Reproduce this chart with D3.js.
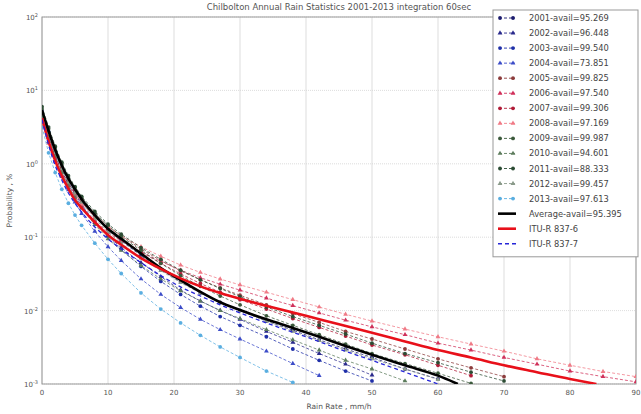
<!DOCTYPE html>
<html>
<head>
<meta charset="utf-8">
<script src="https://cdn.jsdelivr.net/npm/d3@7"></script>
<style>
  body { margin: 0; background: #fff; }
  svg { font-family: "DejaVu Sans", sans-serif; }
</style>
</head>
<body>
<div id="chart"></div>
<script>
// rain rate bins (mm/h) shared by the yearly curves
const rainRate = [0,1,2,3,4,5,6,8,10,12,15,18,21,24,27,30,34,38,42,46,50,55,60,65,70,75,80,85,90];

// exceedance probability (%) per year
const y2001 = [5.0,2.63,1.48,0.89,0.6,0.43,0.32,0.19,0.126,0.089,0.056,0.036,0.0245,0.0174,0.0129,0.01,0.0072,0.0054,0.004,0.003,0.0023,0.0016,0.00117];
const y2002 = [4.8,2.4,1.32,0.79,0.52,0.36,0.27,0.158,0.105,0.072,0.045,0.029,0.019,0.0135,0.01,0.0076,0.0052,0.0037,0.0026,0.00186,0.00132];
const y2003 = [5.2,2.75,1.45,0.87,0.56,0.39,0.28,0.162,0.102,0.068,0.04,0.025,0.0166,0.0115,0.0083,0.0063,0.0044,0.003,0.0021,0.0015,0.0011];
const y2004 = [4.0,2.0,1.1,0.67,0.44,0.3,0.21,0.12,0.074,0.048,0.027,0.0166,0.011,0.0076,0.0055,0.0041,0.0028,0.0019,0.0013];
const y2005 = [5.0,2.5,1.41,0.89,0.6,0.44,0.33,0.21,0.141,0.105,0.069,0.048,0.0347,0.0263,0.0204,0.0162,0.012,0.0091,0.0069,0.0052,0.0041,0.003,0.0022,0.00166,0.00126];
const y2006 = [4.2,2.0,1.1,0.69,0.47,0.34,0.26,0.166,0.117,0.089,0.063,0.047,0.0355,0.028,0.0229,0.019,0.0148,0.0117,0.0093,0.0074,0.006,0.0047,0.0036,0.0029,0.0023,0.00186,0.0015,0.00126,0.00107];
const y2007 = [4.6,2.24,1.26,0.79,0.54,0.39,0.3,0.186,0.129,0.095,0.063,0.044,0.0316,0.0234,0.0178,0.0141,0.0105,0.0078,0.0059,0.0045,0.0034,0.0025,0.0018,0.0013];
const y2008 = [3.8,1.9,1.1,0.71,0.49,0.36,0.28,0.19,0.138,0.105,0.074,0.055,0.0417,0.0331,0.0269,0.0224,0.0178,0.0141,0.0112,0.0089,0.0072,0.0056,0.0044,0.0035,0.0028,0.0022,0.0018,0.00148,0.00126];
const y2009 = [5.6,3.0,1.66,1.0,0.66,0.47,0.35,0.21,0.145,0.102,0.066,0.044,0.03,0.0214,0.0158,0.012,0.0085,0.0063,0.0047,0.0035,0.0026,0.0019,0.0014,0.00102];
const y2010 = [4.4,2.3,1.26,0.76,0.5,0.35,0.25,0.148,0.095,0.066,0.041,0.027,0.0186,0.0135,0.01,0.0078,0.0055,0.004,0.0029,0.0021,0.0016,0.0011];
const y2011 = [6.0,3.16,1.74,1.05,0.69,0.49,0.36,0.224,0.151,0.11,0.072,0.05,0.0355,0.0263,0.02,0.0155,0.0112,0.0083,0.0063,0.0048,0.0036,0.0026,0.00195,0.00145,0.0011];
const y2012 = [5.0,2.57,1.41,0.85,0.56,0.4,0.3,0.178,0.117,0.083,0.052,0.035,0.024,0.0174,0.0129,0.01,0.0072,0.0052,0.0039,0.0029,0.0022,0.0016,0.00115];
const y2013 = [3.2,1.41,0.76,0.45,0.29,0.2,0.145,0.083,0.05,0.032,0.0174,0.0105,0.0068,0.0046,0.0032,0.0023,0.0015,0.00105];

const avgRain = [0,1,2,3,4,5,6,8,10,12,15,18,21,24,27,30,34,38,42,46,50,55,60,63];
const avgProb = [5.4,2.8,1.55,0.95,0.63,0.45,0.33,0.2,0.13,0.095,0.06,0.038,0.026,0.018,0.013,0.0102,0.0076,0.0058,0.0044,0.0033,0.0025,0.0018,0.0013,0.001];

const itu6Rain = [0,1,2,3,4,5,6,8,10,12,15,18,21,24,27,30,35,40,45,50,55,60,65,70,75,80,84];
const itu6Prob = [4.2,2.0,1.1,0.68,0.46,0.32,0.25,0.16,0.107,0.079,0.052,0.037,0.0275,0.0214,0.0174,0.0145,0.011,0.0085,0.0065,0.005,0.0038,0.0029,0.0023,0.0018,0.00145,0.00117,0.001];

const itu7Rain = [0,1,2,3,4,5,6,8,10,12,15,18,21,24,27,30,35,40,45,50,55,60];
const itu7Prob = [4.0,1.8,0.95,0.6,0.4,0.29,0.22,0.138,0.095,0.069,0.045,0.03,0.021,0.0158,0.012,0.0093,0.0063,0.0044,0.003,0.0021,0.00145,0.001];

const years = ["2001","2002","2003","2004","2005","2006","2007","2008","2009","2010","2011","2012","2013"];
const avail = ["95.269","96.448","99.540","73.851","99.825","97.540","99.306","97.169","99.987","94.601","88.333","99.457","97.613"];
const yearProbs = [y2001,y2002,y2003,y2004,y2005,y2006,y2007,y2008,y2009,y2010,y2011,y2012,y2013];
const yearColors = ["#1c1c6e","#2a2a8c","#1f2fa8","#3c4cc8","#8c3c3c","#d0305a","#b01c38","#f07a86","#3c5a3c","#5c7c5c","#2c4c34","#8a9a8a","#5aaee0"];
const yearMarkers = ["circle","tri","circle","tri","circle","tri","circle","tri","circle","tri","circle","tri","circle"];

const width = 641, height = 414;
const margin = {left: 42, right: 5, top: 17, bottom: 30};

const svg = d3.select("#chart").append("svg")
    .attr("width", width)
    .attr("height", height);

const x = d3.scaleLinear().domain([0, 90]).range([margin.left, width - margin.right]);
const y = d3.scaleLog().domain([1e-3, 1e2]).range([height - margin.bottom, margin.top]);

svg.append("clipPath").attr("id", "plotclip")
    .append("rect")
    .attr("x", margin.left).attr("y", margin.top - 3)
    .attr("width", width - margin.right - margin.left)
    .attr("height", height - margin.bottom - margin.top + 3);

// grid
const xticks = d3.range(0, 91, 10);
const yticks = [-3,-2,-1,0,1,2];
svg.append("g").selectAll("line").data(xticks).enter().append("line")
    .attr("x1", d => x(d)).attr("x2", d => x(d))
    .attr("y1", margin.top).attr("y2", height - margin.bottom)
    .style("stroke", "#d4d4d4").style("stroke-width", 0.8);
svg.append("g").selectAll("line").data(yticks).enter().append("line")
    .attr("x1", margin.left).attr("x2", width - margin.right)
    .attr("y1", d => y(Math.pow(10, d))).attr("y2", d => y(Math.pow(10, d)))
    .style("stroke", "#d4d4d4").style("stroke-width", 0.8)
    .style("stroke-dasharray", "1,1");

// frame
svg.append("rect")
    .attr("x", margin.left).attr("y", margin.top)
    .attr("width", width - margin.right - margin.left)
    .attr("height", height - margin.bottom - margin.top)
    .style("fill", "none").style("stroke", "#999").style("stroke-width", 1);

const plot = svg.append("g").attr("clip-path", "url(#plotclip)");

function pts(rain, prob) {
    return prob.map((p, i) => [rain[i], p]);
}

const lineLin = d3.line().x(d => x(d[0])).y(d => y(d[1]));
const lineSmooth = d3.line().x(d => x(d[0])).y(d => y(d[1])).curve(d3.curveMonotoneX);

const tri = d3.symbol().type(d3.symbolTriangle).size(10);

yearProbs.forEach((prob, k) => {
    const data = pts(rainRate, prob);
    plot.append("path")
        .attr("d", lineLin(data))
        .style("fill", "none")
        .style("stroke", yearColors[k])
        .style("stroke-width", 0.9)
        .style("stroke-dasharray", "3,2")
        .style("opacity", 0.85);
    const g = plot.append("g");
    if (yearMarkers[k] == "circle") {
        g.selectAll("circle").data(data).enter().append("circle")
            .attr("cx", d => x(d[0])).attr("cy", d => y(d[1]))
            .attr("r", 1.9)
            .style("fill", yearColors[k]);
    } else {
        g.selectAll("path").data(data).enter().append("path")
            .attr("d", tri)
            .attr("transform", d => "translate(" + x(d[0]) + "," + y(d[1]) + ")")
            .style("fill", yearColors[k]);
    }
});

plot.append("path")
    .attr("d", lineSmooth(pts(avgRain, avgProb)))
    .style("fill", "none").style("stroke", "#000").style("stroke-width", 2.6);

plot.append("path")
    .attr("d", lineSmooth(pts(itu6Rain, itu6Prob)))
    .style("fill", "none").style("stroke", "#e8101a").style("stroke-width", 2.6);

plot.append("path")
    .attr("d", lineSmooth(pts(itu7Rain, itu7Prob)))
    .style("fill", "none").style("stroke", "#2626d8").style("stroke-width", 1.3)
    .style("stroke-dasharray", "4,3");

// tick labels
svg.append("g").selectAll("text").data(xticks).enter().append("text")
    .attr("x", d => x(d)).attr("y", height - margin.bottom + 11)
    .attr("text-anchor", "middle")
    .style("font-size", "7px").style("fill", "#555")
    .text(d => d);

const ylab = svg.append("g").selectAll("text").data(yticks).enter().append("text")
    .attr("x", margin.left - 4).attr("y", d => y(Math.pow(10, d)) + 3)
    .attr("text-anchor", "end")
    .style("font-size", "7px").style("fill", "#555");
ylab.append("tspan").text("10");
ylab.append("tspan").attr("dy", -3).style("font-size", "5px").text(d => d);

// titles
svg.append("text")
    .attr("x", (margin.left + width - margin.right) / 2).attr("y", 10)
    .attr("text-anchor", "middle")
    .style("font-size", "8.5px").style("fill", "#555")
    .text("Chilbolton Annual  Rain Statistics 2001-2013 integration 60sec");

svg.append("text")
    .attr("x", (margin.left + width - margin.right) / 2).attr("y", height - 5)
    .attr("text-anchor", "middle")
    .style("font-size", "7.5px").style("fill", "#555")
    .text("Rain Rate , mm/h");

svg.append("text")
    .attr("transform", "translate(12," + (margin.top + height - margin.bottom) / 2 + ") rotate(-90)")
    .attr("text-anchor", "middle")
    .style("font-size", "7.5px").style("fill", "#555")
    .text("Probability , %");

// legend
const legItems = years.map((yr, k) => ({
    label: yr + "-avail=" + avail[k], color: yearColors[k], marker: yearMarkers[k], kind: "year"
})).concat([
    {label: "Average-avail=95.395", color: "#000", kind: "avg"},
    {label: "ITU-R 837-6", color: "#e8101a", kind: "avg"},
    {label: "ITU-R 837-7", color: "#2626d8", kind: "itu7"}
]);

const legX = 493, legY = 10, rowH = 15.05;
svg.append("rect")
    .attr("x", legX).attr("y", legY)
    .attr("width", 145).attr("height", legItems.length * rowH + 6)
    .style("fill", "#fff").style("stroke", "#999").style("stroke-width", 1);

const leg = svg.append("g").selectAll("g").data(legItems).enter().append("g")
    .attr("transform", (d, i) => "translate(" + legX + "," + (legY + 8 + i * rowH) + ")");

leg.each(function(d) {
    const g = d3.select(this);
    if (d.kind == "year") {
        g.append("line").attr("x1", 6).attr("x2", 22).attr("y1", 0).attr("y2", 0)
            .style("stroke", d.color).style("stroke-width", 0.9).style("stroke-dasharray", "3,2");
        [7, 20].forEach(cx => {
            if (d.marker == "circle") {
                g.append("circle").attr("cx", cx).attr("cy", 0).attr("r", 1.9).style("fill", d.color);
            } else {
                g.append("path").attr("d", tri).attr("transform", "translate(" + cx + ",0)").style("fill", d.color);
            }
        });
    } else if (d.kind == "avg") {
        g.append("line").attr("x1", 5).attr("x2", 23).attr("y1", 0).attr("y2", 0)
            .style("stroke", d.color).style("stroke-width", 2.6);
    } else {
        g.append("line").attr("x1", 5).attr("x2", 23).attr("y1", 0).attr("y2", 0)
            .style("stroke", d.color).style("stroke-width", 1.3).style("stroke-dasharray", "4,3");
    }
    g.append("text").attr("x", 36).attr("y", 3)
        .style("font-size", "8.3px").style("fill", "#444")
        .text(d.label);
});
</script>
</body>
</html>
